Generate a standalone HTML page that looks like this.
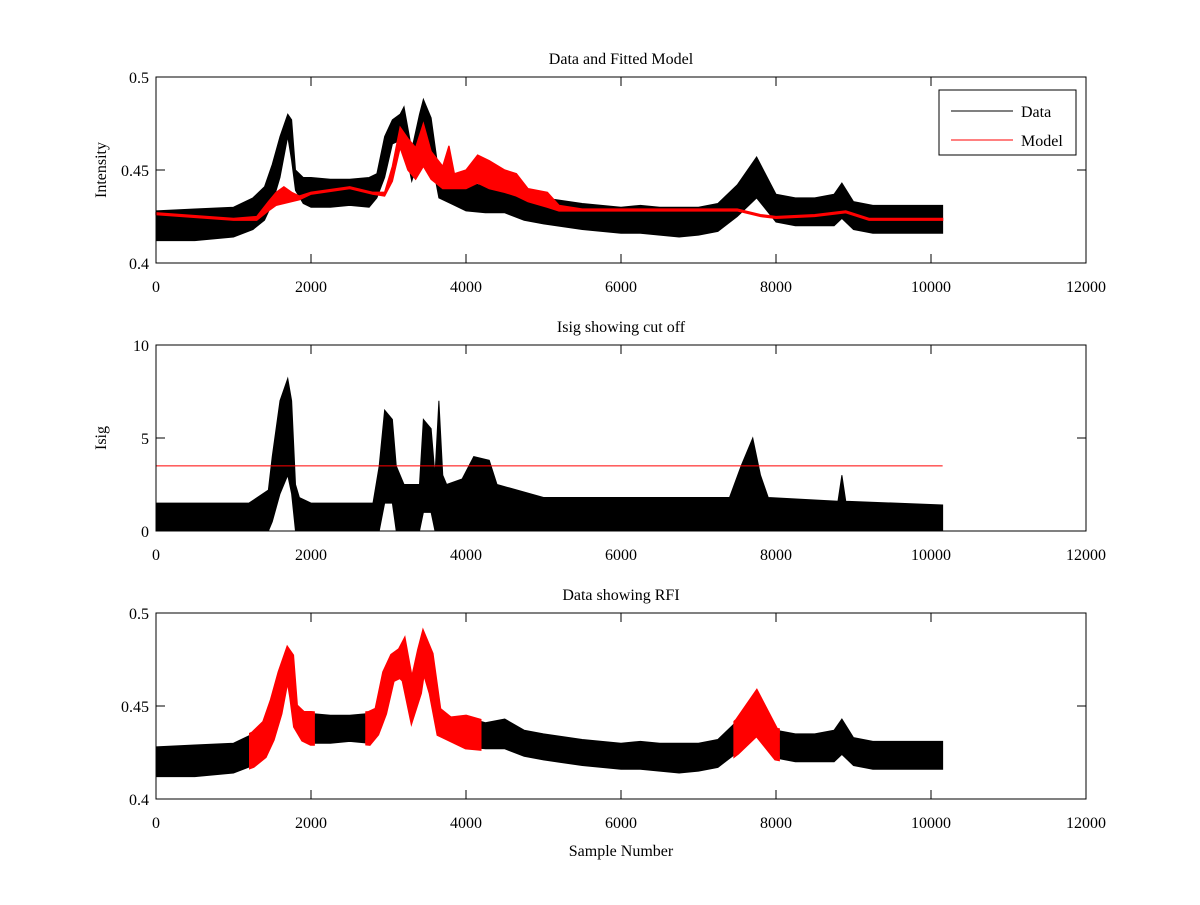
<!DOCTYPE html>
<html><head><meta charset="utf-8"><style>
body{margin:0;background:#fff}
svg text{font-family:"Liberation Serif",serif;font-size:16px;fill:#000}
</style></head><body>
<svg id="c" width="1200" height="900"></svg>
<script>
const dataX=[0,500,1000,1250,1400,1500,1600,1700,1750,1800,1900,2000,2250,2500,2750,2850,2950,3050,3150,3200,3300,3400,3450,3550,3650,3800,4000,4250,4500,4750,5000,5500,6000,6250,6500,6750,7000,7250,7500,7750,8000,8250,8500,8750,8850,9000,9250,9500,9750,10000,10150];
const dataLo=[.412,.412,.414,.418,.423,.432,.446,.468,.455,.439,.432,.430,.430,.431,.430,.435,.446,.464,.466,.464,.444,.457,.471,.457,.435,.432,.428,.427,.427,.423,.421,.418,.416,.416,.415,.414,.415,.417,.425,.435,.422,.420,.420,.420,.424,.418,.416,.416,.416,.416,.416];
const dataHi=[.428,.429,.430,.435,.441,.453,.468,.480,.477,.450,.446,.446,.445,.445,.446,.448,.468,.477,.480,.484,.461,.480,.488,.478,.448,.443,.444,.441,.443,.437,.435,.432,.430,.431,.430,.430,.430,.432,.442,.457,.437,.435,.435,.437,.443,.433,.431,.431,.431,.431,.431];
const modelX=[0,1000,1300,1450,1550,1650,1750,1850,2000,2500,2800,2950,3050,3150,3250,3350,3450,3550,3700,3780,3850,4000,4150,4300,4500,4650,4800,5050,5200,5500,7500,7800,8000,8500,8900,9200,10150];
const modelLo=[.426,.423,.423,.428,.431,.432,.433,.434,.437,.440,.437,.436,.444,.462,.450,.445,.452,.445,.440,.440,.440,.440,.443,.440,.438,.436,.433,.430,.428,.428,.428,.425,.424,.425,.427,.423,.423];
const modelHi=[.427,.424,.425,.433,.438,.441,.438,.436,.438,.441,.438,.438,.452,.473,.467,.462,.475,.460,.452,.463,.448,.450,.458,.455,.450,.448,.440,.438,.431,.429,.429,.426,.425,.426,.428,.424,.424];
const isigX=[0,1200,1450,1500,1600,1700,1750,1800,1850,2000,2800,2880,2950,3050,3100,3200,3400,3450,3550,3600,3650,3700,3750,3950,4100,4300,4400,5000,7400,7550,7700,7800,7900,8800,8850,8900,10150];
const isigLo=[0,0,0,0.5,2,3,2,0,0,0,0,0,1.5,1.5,0,0,0,1,1,0,0,0,0,0,0,0,0,0,0,0,0,0,0,0,0,0,0];
const isigHi=[1.5,1.5,2.2,4,7,8.2,7,2.5,1.8,1.5,1.5,3.5,6.5,6,3.5,2.5,2.5,6,5.5,3,7,3,2.5,2.8,4,3.8,2.5,1.8,1.8,3.5,5,3,1.8,1.6,3,1.6,1.4];
const cutoff=3.5;
const cutoffEnd=10150;
const rfiStart=[1200,2700,7450];
const rfiEnd=[2050,4200,8050];
const xTicks=[0,2000,4000,6000,8000,10000,12000];
const ns='http://www.w3.org/2000/svg';
const svg=document.getElementById('c');
function el(t,a,p){const e=document.createElementNS(ns,t);for(const k in a)e.setAttribute(k,a[k]);(p||svg).appendChild(e);return e;}
const X0=156,X1=1086;
const sx=v=>X0+(X1-X0)*v/12000;
function panel(name,top,bot,ymin,ymax,yTicks,title,ylabel){
  const g=el('g',{});
  const sy=v=>bot-(bot-top)*(v-ymin)/(ymax-ymin);
  const t=el('text',{x:(X0+X1)/2,y:top-13,'text-anchor':'middle'},g);t.textContent=title;
  
  if(ylabel){const yl=el('text',{x:0,y:0,'text-anchor':'middle',transform:`translate(${X0-50},${(top+bot)/2}) rotate(-90)`},g);yl.textContent=ylabel;
  }
  return {g,sy,top,bot,yTicks};
}
function axes(p){
  const {g,sy,top,bot,yTicks}=p;
  const fr=el('rect',{x:X0,y:top,width:X1-X0,height:bot-top,fill:'none',stroke:'#000','stroke-width':1},g);
  
  xTicks.forEach(v=>{const x=sx(v);
    el('line',{x1:x,x2:x,y1:bot,y2:bot-9,stroke:'#000'},g);el('line',{x1:x,x2:x,y1:top,y2:top+9,stroke:'#000'},g);
    const t=el('text',{x:x,y:bot+29,'text-anchor':'middle'},g);t.textContent=v;
    });
  yTicks.forEach(v=>{const y=sy(v);
    el('line',{x1:X0,x2:X0+9,y1:y,y2:y,stroke:'#000'},g);el('line',{x1:X1,x2:X1-9,y1:y,y2:y,stroke:'#000'},g);
    const t=el('text',{x:X0-7,y:y+6,'text-anchor':'end'},g);t.textContent=v;
    });
}
function band(g,sy,xa,lo,hi,color,name,extra){
  let d='M'+xa.map((x,i)=>sx(x)+','+sy(hi[i])).join('L');
  for(let i=xa.length-1;i>=0;i--)d+='L'+sx(xa[i])+','+sy(lo[i]);
  const a=Object.assign({d:d+'Z',fill:color,stroke:color,'stroke-width':1},extra||{});
  const p=el('path',a,g);return p;
}
// panel 1
const p1=panel('panel-data-model',77,263,0.4,0.5,[0.4,0.45,0.5],'Data and Fitted Model','Intensity');
band(p1.g,p1.sy,dataX,dataLo,dataHi,'#000','data-series');
band(p1.g,p1.sy,modelX,modelLo,modelHi,'#f00','model-line',{'stroke-width':1.3});
axes(p1);
const lg=el('g',{},p1.g);
el('rect',{x:939,y:90,width:137,height:65,fill:'#fff',stroke:'#000'},lg);
el('line',{x1:951,x2:1013,y1:111,y2:111,stroke:'#000'},lg);
el('line',{x1:951,x2:1013,y1:140,y2:140,stroke:'#f00'},lg);
let t=el('text',{x:1021,y:117},lg);t.textContent='Data';
t=el('text',{x:1021,y:146},lg);t.textContent='Model';
// panel 2
const p2=panel('panel-isig',345,531,0,10,[0,5,10],'Isig showing cut off','Isig');
band(p2.g,p2.sy,isigX,isigLo,isigHi,'#000','isig-series');
const cl=el('line',{x1:sx(0),x2:sx(cutoffEnd),y1:p2.sy(cutoff),y2:p2.sy(cutoff),stroke:'#f00'},p2.g);

axes(p2);
// panel 3
const p3=panel('panel-rfi',613,799,0.4,0.5,[0.4,0.45,0.5],'Data showing RFI',null);
band(p3.g,p3.sy,dataX,dataLo,dataHi,'#000','data-series-rfi');
const defs=el('defs',{});const cp=el('clipPath',{id:'rfi'},defs);
rfiStart.forEach((s,i)=>el('rect',{x:sx(s),y:0,width:sx(rfiEnd[i])-sx(s),height:900},cp));
band(p3.g,p3.sy,dataX,dataLo,dataHi,'#f00','rfi-points',{'stroke-width':5,'clip-path':'url(#rfi)'});
axes(p3);
t=el('text',{x:(X0+X1)/2,y:856,'text-anchor':'middle'});t.textContent='Sample Number';

</script>
</body></html>
